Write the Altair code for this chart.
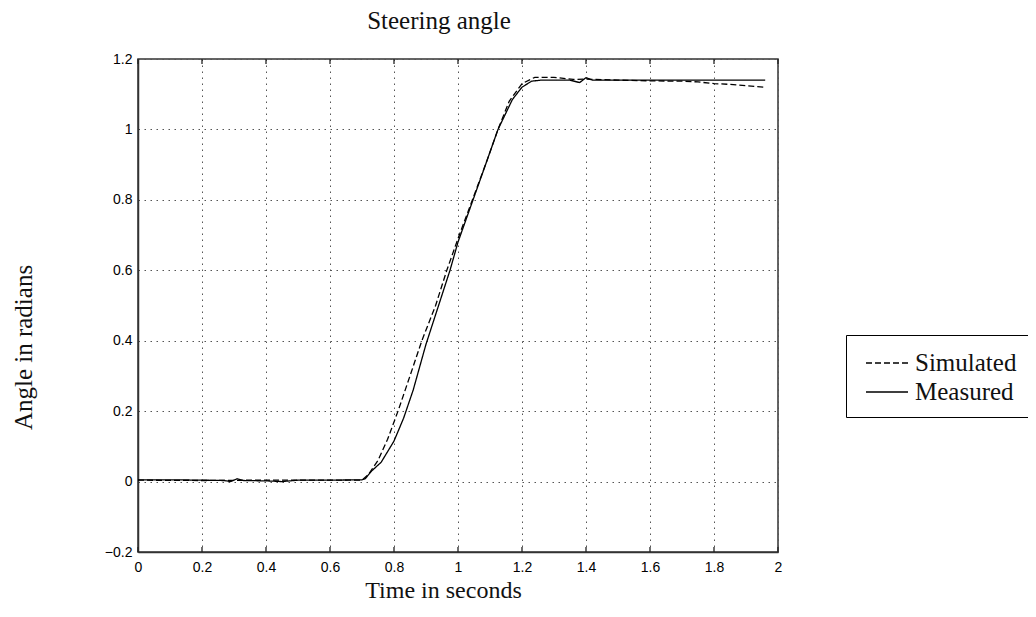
import altair as alt
import pandas as pd

# Measured (solid)
meas_t = [0.00, 0.10, 0.20, 0.27, 0.29, 0.31, 0.33, 0.40, 0.45, 0.50, 0.60, 0.70,
          0.71, 0.73, 0.76, 0.80, 0.83, 0.86, 0.90, 0.95, 0.975, 1.00, 1.047, 1.09,
          1.125, 1.17, 1.20, 1.23, 1.26, 1.35, 1.38, 1.40, 1.42, 1.60, 1.80, 1.96]
meas_y = [0.005, 0.005, 0.004, 0.003, 0.000, 0.008, 0.003, 0.002, 0.000, 0.004, 0.004, 0.005,
          0.008, 0.030, 0.055, 0.115, 0.180, 0.260, 0.390, 0.530, 0.600, 0.680, 0.800, 0.910,
          1.000, 1.085, 1.120, 1.137, 1.140, 1.140, 1.133, 1.147, 1.140, 1.140, 1.140, 1.140]

# Simulated (dashed)
sim_t = [0.00, 0.20, 0.40, 0.60, 0.70, 0.72, 0.75, 0.78, 0.8125, 0.85, 0.887, 0.93,
         0.965, 1.00, 1.045, 1.09, 1.125, 1.16, 1.20, 1.24, 1.30, 1.36, 1.40, 1.50,
         1.60, 1.70, 1.75, 1.80, 1.85, 1.90, 1.96]
sim_y = [0.004, 0.003, 0.004, 0.004, 0.004, 0.020, 0.060, 0.120, 0.200, 0.300, 0.400, 0.500,
         0.600, 0.690, 0.800, 0.910, 1.000, 1.080, 1.130, 1.148, 1.148, 1.142, 1.143, 1.140,
         1.138, 1.137, 1.135, 1.130, 1.128, 1.124, 1.120]

x_ticks = [0, 0.2, 0.4, 0.6, 0.8, 1.0, 1.2, 1.4, 1.6, 1.8, 2.0]
y_ticks = [-0.2, 0, 0.2, 0.4, 0.6, 0.8, 1.0, 1.2]

df = pd.concat([
    pd.DataFrame({"t": sim_t, "y": sim_y, "series": "Simulated"}),
    pd.DataFrame({"t": meas_t, "y": meas_y, "series": "Measured"}),
])
ticks_df = pd.DataFrame({"t": x_ticks})

W, H = 640, 493
xscale = alt.Scale(domain=[0, 2], nice=False)
yscale = alt.Scale(domain=[-0.2, 1.2], nice=False)

label_font = "Liberation Sans"
serif = "Liberation Serif"

common = dict(grid=True, gridDash=[1.5, 4.5], gridColor="#555", gridWidth=1,
              tickSize=0, labelFlush=False, labelOverlap=False,
              labelFont=label_font, labelFontSize=14, labelColor="#000",
              labelExpr="format(datum.value, '.1~f')",
              domainColor="#333", domainWidth=1.5,
              titleFont=serif, titleFontWeight="normal", titleColor="#111",
              titleAlign="center", titleBaseline="middle")

x_axis = alt.Axis(values=x_ticks, labelPadding=8, title="Time in seconds",
                  titleFontSize=24, titleX=305, titleY=38, **common)
y_axis = alt.Axis(values=y_ticks, labelPadding=6, title="Angle in radians",
                  titleFontSize=25, titleX=-115, titleY=288, titleAngle=270, **common)

lines = alt.Chart(df).mark_line(color="black", strokeWidth=1.3).encode(
    x=alt.X("t:Q", scale=xscale, axis=x_axis),
    y=alt.Y("y:Q", scale=yscale, axis=y_axis),
    strokeDash=alt.StrokeDash(
        "series:N",
        scale=alt.Scale(domain=["Simulated", "Measured"], range=[[6, 3], [1, 0]]),
        legend=alt.Legend(title=None, orient="none", legendX=708, legendY=276,
                          strokeColor="black", padding=12,
                          symbolType="M-1.4,0L1.4,0",
                          symbolSize=900, symbolStrokeWidth=1.3, symbolOffset=13,
                          symbolStrokeColor="black", labelFont=serif,
                          labelFontSize=25, labelColor="#111", labelOffset=12,
                          rowPadding=0, labelLimit=300),
    ),
)

tick_top = alt.Chart(ticks_df).mark_rule(color="#222", strokeWidth=1.3).encode(
    x=alt.X("t:Q", scale=xscale), y=alt.value(0), y2=alt.value(5))
tick_bot = alt.Chart(ticks_df).mark_rule(color="#222", strokeWidth=1.3).encode(
    x=alt.X("t:Q", scale=xscale), y=alt.value(H), y2=alt.value(H - 5))

chart = alt.layer(tick_top, tick_bot, lines).properties(
    width=W, height=H,
    title=alt.Title("Steering angle", font=serif, fontSize=25, fontWeight="normal",
                    color="#111", offset=18, dx=-19),
    autosize=alt.AutoSizeParams(type="none"),
    padding={"left": 130, "top": 51, "right": 250, "bottom": 50},
).configure_view(stroke="#333", strokeWidth=1.5)

chart.save("out.html", embed_options={"renderer": "svg", "actions": False})
